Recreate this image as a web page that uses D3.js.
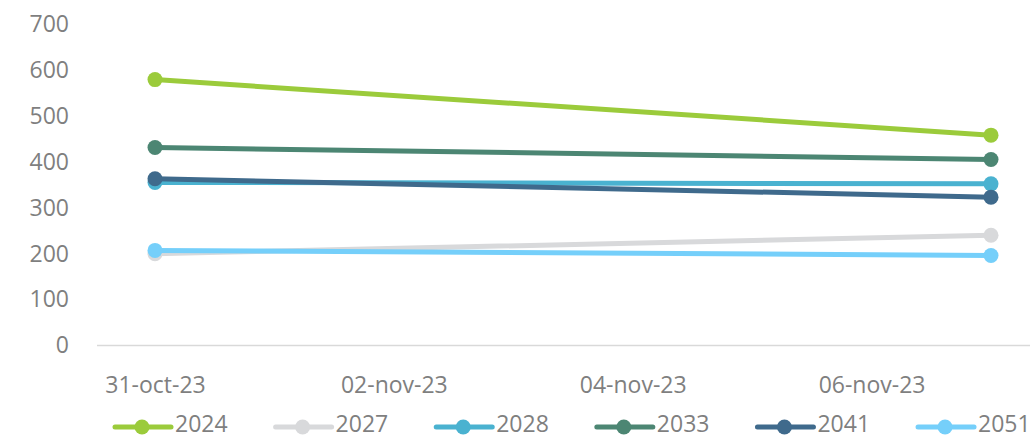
<!DOCTYPE html>
<html><head><meta charset="utf-8">
<script src="https://cdn.jsdelivr.net/npm/d3@7"></script>
<style>
html,body{margin:0;padding:0;background:#fff;overflow:hidden;}
text{font-family:"Open Sans",Lato,sans-serif;fill:#7f7f7f;}
</style></head>
<body><svg id="c" width="1035" height="438"></svg>
<script>
const dates = ["2023-10-31", "2023-11-07"];
const seriesNames = ["2024", "2027", "2028", "2033", "2041", "2051"];
const v2024 = [579, 458];
const v2027 = [200, 240];
const v2028 = [355, 352];
const v2033 = [431, 405];
const v2041 = [363, 323];
const v2051 = [207, 196];
const colors = ["#9BCB3B", "#D8D9DB", "#4AB2D0", "#4C8673", "#3F6A8C", "#75CFFA"];
const yTicks = [0, 100, 200, 300, 400, 500, 600, 700];
const xTicks = ["2023-10-31", "2023-11-02", "2023-11-04", "2023-11-06"];

const values = [v2024, v2027, v2028, v2033, v2041, v2051];
const parse = d3.utcParse("%Y-%m-%d");
const svg = d3.select("#c");
const FS = "23px";

const x = d3.scaleUtc().domain([parse("2023-10-31"), parse("2023-11-07")]).range([155, 991]);
const y = d3.scaleLinear().domain([0, 700]).range([345.5, 24]);

// y axis labels
const yAxis = d3.axisLeft(y).tickValues(yTicks).tickSize(0).tickPadding(0);
const gy = svg.append("g").attr("transform", "translate(69,0)").call(yAxis);
gy.select(".domain").remove();
gy.selectAll("text").style("font-size", FS).attr("fill", "#7f7f7f").attr("font-family", null);

// x axis
const fmt = d => d3.utcFormat("%d-%b-%y")(d).toLowerCase();
const xAxis = d3.axisBottom(x).tickValues(xTicks.map(parse)).tickFormat(fmt).tickSize(0).tickPadding(31);
const gx = svg.append("g").attr("transform", "translate(0,345.5)").call(xAxis);
gx.select(".domain").remove();
gx.selectAll("text").style("font-size", FS).attr("fill", "#7f7f7f").attr("font-family", null);
svg.append("line").attr("x1", 97).attr("x2", 1030).attr("y1", y(0)).attr("y2", y(0))
  .attr("stroke", "#d9d9d9").attr("stroke-width", 1.5);

const line = d3.line().x((d, i) => x(parse(dates[i]))).y(d => y(d));
seriesNames.forEach((name, s) => {
  const g = svg.append("g");
  g.append("path").datum(values[s]).attr("d", line).attr("fill", "none")
    .attr("stroke", colors[s]).attr("stroke-width", 5).attr("stroke-linecap", "round");
  g.selectAll("circle").data(values[s]).join("circle")
    .attr("cx", (d, i) => x(parse(dates[i]))).attr("cy", d => y(d)).attr("r", 7.5)
    .attr("fill", colors[s]);
});

// legend
const lg = svg.append("g");
let lx = 115;
const ly = 427;
seriesNames.forEach((name, s) => {
  lg.append("line").attr("x1", lx).attr("x2", lx + 56).attr("y1", ly).attr("y2", ly)
    .attr("stroke", colors[s]).attr("stroke-width", 5).attr("stroke-linecap", "round");
  lg.append("circle").attr("cx", lx + 27).attr("cy", ly).attr("r", 7.5).attr("fill", colors[s]);
  const t = lg.append("text").attr("x", lx + 60).attr("y", 432)
    .style("font-size", FS).text(name);
  const w = t.node().getComputedTextLength();
  lx = lx + 60 + w + 48;
});
</script></body></html>
